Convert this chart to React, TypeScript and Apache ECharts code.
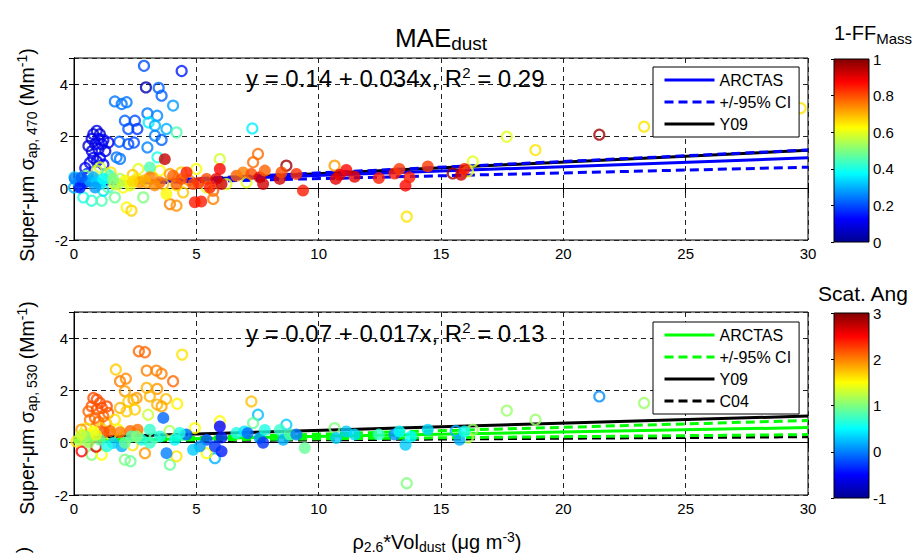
import React, { useEffect, useRef } from 'react';
import * as echarts from 'echarts';

// ---------- DATA ----------
const X_MIN = 0, X_MAX = 30, X_STEP = 5;
const Y_MIN = -2, Y_MAX = 5, Y_STEP = 2;
const CB1 = { min: 0, max: 1, step: 0.2 };
const CB2 = { min: -1, max: 3, step: 1 };

// line end points at x = 0 and x = 30
const LINE_X = [0, 30];
const top_arctas = [0.14, 1.16];
const top_ciUp = [0.14, 1.46];
const top_ciLo = [0.14, 0.8];
const top_y09 = [0.1, 1.45];
const bot_arctas = [0.07, 0.58];
const bot_ciUp = [0.07, 0.85];
const bot_ciLo = [0.07, 0.31];
const bot_y09 = [0.2, 1.02];
const bot_c04 = [0.05, 0.23];

// points: [x, y, colour value]
const topOpen: number[][] = [
  [2.86, 4.7, 0.2], [4.4, 4.5, 0.15], [2.94, 3.87, 0.05], [3.46, 3.85, 0.22], [3.58, 3.55, 0.22], [4.05, 3.17, 0.28],
  [1.67, 3.33, 0.24], [1.95, 3.23, 0.24], [2.15, 3.3, 0.24], [3.0, 2.87, 0.24], [3.4, 2.78, 0.26], [3.05, 2.52, 0.36],
  [2.08, 2.59, 0.22], [2.49, 2.59, 0.2], [2.22, 2.27, 0.2], [2.59, 2.27, 0.18], [3.31, 2.4, 0.3], [3.78, 2.27, 0.3],
  [4.19, 2.14, 0.45], [3.31, 2.01, 0.25], [3.58, 1.85, 0.22], [1.85, 1.78, 0.22], [2.22, 1.69, 0.2], [2.45, 1.75, 0.2],
  [3.0, 1.56, 0.25], [1.74, 1.18, 0.24], [1.88, 1.12, 0.24], [3.41, 1.18, 0.4], [7.29, 2.29, 0.36],
  [0.93, 2.2, 0.1], [0.79, 2.07, 0.1], [1.06, 2.07, 0.08], [0.72, 1.89, 0.1], [1.0, 1.89, 0.1], [1.2, 1.85, 0.12],
  [0.59, 1.62, 0.08], [0.87, 1.68, 0.1], [1.14, 1.68, 0.1], [1.41, 1.75, 0.12], [0.73, 1.42, 0.1], [1.0, 1.49, 0.1],
  [1.28, 1.42, 0.1], [0.79, 1.16, 0.1], [1.06, 1.16, 0.12], [0.65, 0.97, 0.1], [0.93, 1.03, 0.1], [0.46, 0.77, 0.12],
  [1.2, 0.9, 0.12], [0.55, 0.55, 0.15], [0.3, 0.35, 0.15], [0.2, 0.1, 0.18],
  [0.18, 0.22, 0.38], [0.38, -0.36, 0.4], [0.72, -0.49, 0.42], [1.13, -0.49, 0.45], [1.67, -0.36, 0.48], [1.2, -0.1, 0.35],
  [0.0, 0.02, 0.3], [2.15, -0.75, 0.63], [2.35, -0.87, 0.67], [2.83, -0.36, 0.5], [1.06, 0.79, 0.58], [2.63, 0.73, 0.6],
  [3.51, 0.67, 0.62], [4.39, 0.6, 0.67], [5.0, 0.73, 0.62], [5.96, 1.11, 0.58], [7.52, 1.31, 0.77], [7.32, 0.99, 0.77],
  [8.68, 0.86, 0.97], [10.65, 0.86, 0.72], [5.69, -0.1, 0.78], [5.69, -0.42, 0.75], [3.92, -0.62, 0.75], [4.19, -0.68, 0.73],
  [4.46, -0.17, 0.68], [3.92, 0.54, 0.72], [3.65, 0.15, 0.7], [2.96, 0.22, 0.72], [5.42, 0.02, 0.6], [7.05, 0.22, 0.6],
  [6.23, 0.15, 0.6], [0.02, 0.41, 0.3], [0.47, 0.47, 0.5], [0.93, 0.67, 0.58], [1.34, 0.54, 0.45], [1.6, 0.22, 0.5],
  [1.88, 0.35, 0.55], [1.4, 0.02, 0.45], [1.67, 0.15, 0.6], [2.0, 0.02, 0.62], [1.5, 0.6, 0.65], [2.4, 0.5, 0.68],
  [3.2, 0.4, 0.7], [4.7, 0.3, 0.72], [4.2, 0.1, 0.65],
  [16.3, 1.02, 0.6], [16.1, 0.64, 0.6], [15.48, 0.56, 0.97], [17.69, 1.97, 0.6], [18.86, 1.46, 0.65], [21.47, 2.05, 0.97],
  [23.3, 2.36, 0.65], [29.7, 3.07, 0.65], [13.6, -1.1, 0.65],
];
const topFilled: number[][] = [
  [0.04, 0.35, 0.25], [0.45, 0.22, 0.18], [0.79, 0.41, 0.3], [0.24, 0.02, 0.15], [1.06, 0.15, 0.35], [1.47, 0.47, 0.45],
  [3.1, 0.79, 0.45], [3.71, 1.11, 0.93], [2.08, 0.28, 0.62], [2.56, 0.35, 0.65], [2.29, 0.09, 0.6], [3.78, -0.23, 0.63],
  [2.69, 0.22, 0.73], [3.1, 0.41, 0.75], [3.51, 0.22, 0.77], [4.05, 0.47, 0.78], [4.19, 0.15, 0.78], [4.6, 0.6, 0.85],
  [4.87, 0.15, 0.8], [4.94, -0.55, 0.85], [5.2, -0.52, 0.85], [5.42, 0.35, 0.8], [5.55, 0.02, 0.85], [5.82, 0.35, 0.9],
  [5.96, 0.73, 0.88], [6.03, 0.15, 0.92], [6.64, 0.47, 0.78], [6.91, 0.6, 0.75], [7.25, 0.54, 0.8], [7.59, 0.41, 0.9],
  [7.73, 0.15, 0.92], [7.8, 0.67, 0.78], [8.41, 0.35, 0.92], [8.48, 0.6, 0.8], [9.09, 0.54, 0.83], [9.36, -0.1, 0.85],
  [10.7, 0.35, 0.9], [10.86, 0.51, 0.9], [11.13, 0.69, 0.87], [11.47, 0.43, 0.9], [12.46, 0.38, 0.85], [13.1, 0.56, 0.85],
  [13.3, 0.73, 0.82], [13.55, 0.09, 0.87], [13.71, 0.41, 0.85], [14.46, 0.83, 0.82], [15.82, 0.51, 0.92], [15.96, 0.73, 0.85],
  [0.65, 0.28, 0.3], [0.93, 0.22, 0.33], [1.2, 0.35, 0.38], [0.31, 0.41, 0.22], [0.86, 0.02, 0.28], [1.81, 0.15, 0.55],
  [1.6, 0.35, 0.5], [2.9, 0.3, 0.7], [3.3, 0.1, 0.74], [4.4, 0.35, 0.8], [5.1, 0.2, 0.83], [2.4, 0.25, 0.66],
];
const botOpen: number[][] = [
  [0.79, 1.71, 2.2], [0.93, 1.65, 2.2], [1.06, 1.52, 2.2], [0.72, 1.39, 2.15], [1.14, 1.33, 2.2], [1.34, 1.39, 2.2],
  [0.59, 1.2, 2.1], [0.93, 1.27, 2.2], [1.4, 1.14, 2.15], [0.86, 0.95, 2.1], [1.2, 1.01, 2.1], [0.65, 0.88, 2.05],
  [1.0, 0.8, 2.1], [1.3, 0.75, 2.0],
  [2.65, 3.5, 2.1], [2.9, 3.46, 2.1], [4.42, 3.37, 1.6], [1.71, 2.8, 1.7], [2.97, 2.76, 2.0], [3.37, 2.76, 2.0],
  [3.58, 2.64, 2.0], [4.05, 2.35, 2.1], [1.88, 2.35, 2.0], [2.12, 2.45, 1.95], [2.08, 1.97, 1.9], [2.97, 2.1, 1.8],
  [3.4, 2.06, 1.9], [2.56, 1.71, 1.9], [2.43, 1.65, 1.85], [2.22, 1.58, 1.7], [3.1, 1.77, 1.8], [3.76, 1.67, 1.75],
  [4.22, 1.49, 1.55], [3.4, 1.46, 1.8], [3.58, 1.39, 1.85], [1.88, 1.33, 1.8], [2.15, 1.2, 1.7], [2.49, 1.27, 1.7],
  [3.03, 1.07, 1.3], [1.67, 0.88, 1.6], [7.25, 1.58, 1.75], [7.52, 1.07, 0.25], [7.32, 0.75, 0.9], [5.96, 0.82, 1.5],
  [8.68, 0.69, 0.3], [10.65, 0.56, 1.0], [4.94, 0.56, 1.5], [3.92, -0.84, 0.9], [4.19, -0.52, 1.6], [2.9, -0.4, 1.9],
  [2.08, -0.65, 1.0], [2.31, -0.71, 0.9], [0.72, -0.46, 1.0], [1.13, -0.46, 1.5], [0.31, -0.33, 2.5], [5.76, -0.59, 0.2],
  [5.42, -0.4, 1.5], [15.6, 0.45, 0.2], [16.3, 0.5, 1.1], [16.1, 0.2, 1.2], [17.69, 1.23, 1.1], [18.86, 0.88, 1.1],
  [21.47, 1.77, 0.05], [23.3, 1.52, 1.1], [13.6, -1.55, 1.0],
  [0.1, 0.05, 1.6], [0.4, 0.3, 1.5], [0.6, 0.1, 1.3], [1.5, 0.3, 1.4], [1.8, 0.5, 1.5], [2.6, 0.3, 1.2], [3.3, 0.2, 1.0],
  [0.5, 0.55, 1.6], [1.1, 0.55, 1.7], [3.9, 0.45, 1.2], [4.5, 0.3, 0.8], [2.4, -0.1, 1.6], [0.9, -0.15, 2.6], [0.3, 0.5, 1.9],
];
const botFilled: number[][] = [
  [1.47, 0.45, 2.1], [1.88, 0.4, 2.0], [2.3, 0.45, 2.1], [2.6, 0.5, 2.05], [1.2, 0.4, 2.2],
  [3.65, 0.95, -0.1], [3.78, -0.4, 0.0], [5.96, 0.62, -0.5], [6.03, 0.2, -0.4], [6.03, -0.33, -0.4], [5.76, -0.14, -0.3],
  [5.42, 0.11, -0.2], [5.14, -0.14, 0.1], [4.87, -0.27, 0.3], [4.6, 0.31, -0.1], [4.12, 0.11, 0.5], [3.51, 0.24, 0.6],
  [3.1, 0.5, 0.7], [2.76, 0.11, 0.6], [2.35, 0.24, 0.8], [1.95, -0.14, 0.2], [1.6, -0.01, 0.3], [0.79, 0.43, 1.5],
  [0.47, 0.24, 1.0], [0.2, 0.11, 1.2], [1.06, 0.11, 0.9], [1.34, -0.14, 0.6], [2.08, 0.0, 0.9], [2.56, 0.24, 1.0],
  [3.1, 0.0, 0.7], [4.32, 0.37, 0.6], [6.64, 0.37, 0.6], [6.97, 0.43, 0.4], [7.1, 0.36, -0.1], [7.59, 0.18, 0.1],
  [7.73, 0.0, -0.3], [7.8, 0.49, 0.6], [8.41, 0.49, 0.7], [8.55, 0.11, 0.2], [8.82, 0.31, 0.8], [9.09, 0.31, 0.0],
  [9.43, -0.2, 0.9], [10.72, 0.18, 0.3], [11.13, 0.43, 0.3], [11.47, 0.31, 0.35], [12.46, 0.31, 0.7], [13.1, 0.31, 0.05],
  [13.3, 0.43, 0.5], [13.55, -0.08, 0.3], [13.78, 0.24, 0.5], [14.46, 0.5, 0.35], [15.76, 0.11, 0.2], [15.96, 0.43, 0.55],
  [0.3, 0.3, 1.3], [0.6, 0.0, 1.1], [0.9, 0.3, 1.4],
];

// ---------- STYLE HELPERS ----------
const FONT = 'Liberation Sans, Arial, Helvetica, sans-serif';

function jet(v: number, lo: number, hi: number) {
  const t = Math.min(1, Math.max(0, (v - lo) / (hi - lo)));
  const f = (x: number) => Math.round(255 * Math.min(1, Math.max(0, 1.5 - Math.abs(x))));
  return `rgb(${f(4 * t - 3)},${f(4 * t - 2)},${f(4 * t - 1)})`;
}

const JET_STOPS = [
  { offset: 0, color: '#000090' },
  { offset: 0.125, color: '#0000ff' },
  { offset: 0.375, color: '#00ffff' },
  { offset: 0.625, color: '#ffff00' },
  { offset: 0.875, color: '#ff0000' },
  { offset: 1, color: '#800000' },
];

const GRIDS = [
  { left: 74, top: 58, width: 734, height: 182 },
  { left: 74, top: 312, width: 734, height: 183 },
  { left: 834, top: 59, width: 35, height: 183 },
  { left: 834, top: 313, width: 35, height: 185 },
];

function openSeries(pts: number[][], lo: number, hi: number, gi: number) {
  return {
    type: 'scatter', xAxisIndex: gi, yAxisIndex: gi, silent: true, z: 3,
    symbol: 'circle', symbolSize: 10,
    data: pts.map((p) => ({
      value: [p[0], p[1]],
      itemStyle: { color: 'rgba(0,0,0,0)', borderColor: jet(p[2], lo, hi), borderWidth: 2.2 },
    })),
  };
}
function filledSeries(pts: number[][], lo: number, hi: number, gi: number) {
  return {
    type: 'scatter', xAxisIndex: gi, yAxisIndex: gi, silent: true, z: 4,
    symbol: 'circle', symbolSize: 12,
    data: pts.map((p) => ({ value: [p[0], p[1]], itemStyle: { color: jet(p[2], lo, hi) } })),
  };
}
function lineSeries(name: string, ys: number[], color: string, dashed: boolean, gi: number) {
  return {
    type: 'line', name, xAxisIndex: gi, yAxisIndex: gi, silent: true, z: 2,
    symbol: 'none', showSymbol: false, legendIcon: 'none',
    itemStyle: { color },
    lineStyle: { color, width: 3, type: dashed ? [9, 5] : 'solid' },
    data: LINE_X.map((x, i) => [x, ys[i]]),
  };
}

function mainX(gi: number) {
  return {
    gridIndex: gi, type: 'value', min: X_MIN, max: X_MAX, interval: X_STEP,
    axisLine: { show: true, lineStyle: { color: '#000', width: 1 } },
    axisTick: { show: true, inside: true, length: 5, lineStyle: { color: '#000' } },
    axisLabel: { fontSize: 15, color: '#000', margin: 6, fontFamily: FONT },
    splitLine: { show: true, lineStyle: { color: '#222', width: 1, type: [5, 4] } },
  };
}
function mainY(gi: number) {
  return {
    gridIndex: gi, type: 'value', min: Y_MIN, max: Y_MAX, interval: Y_STEP,
    axisLine: { show: true, lineStyle: { color: '#000', width: 1 } },
    axisTick: { show: true, inside: true, length: 5, lineStyle: { color: '#000' } },
    axisLabel: { fontSize: 15, color: '#000', margin: 6, fontFamily: FONT, showMaxLabel: false,
      formatter: (v: number) => (v === Y_MAX ? '' : String(v)) },
    splitLine: { show: true, lineStyle: { color: '#222', width: 1, type: [5, 4] } },
  };
}
function mirrorX(gi: number) {
  return {
    gridIndex: gi, type: 'value', position: 'top', min: X_MIN, max: X_MAX, interval: X_STEP,
    axisLine: { show: true, lineStyle: { color: '#000' } },
    axisTick: { show: true, inside: true, length: 5, lineStyle: { color: '#000' } },
    axisLabel: { show: false }, splitLine: { show: false },
  };
}
function mirrorY(gi: number) {
  return {
    gridIndex: gi, type: 'value', position: 'right', min: Y_MIN, max: Y_MAX, interval: Y_STEP,
    axisLine: { show: true, lineStyle: { color: '#000' } },
    axisTick: { show: true, inside: true, length: 5, lineStyle: { color: '#000' } },
    axisLabel: { show: false }, splitLine: { show: false },
  };
}
function cbY(gi: number, cb: { min: number; max: number; step: number }) {
  return {
    gridIndex: gi, type: 'value', position: 'right', min: cb.min, max: cb.max, interval: cb.step, z: 10,
    axisLine: { show: false },
    axisTick: { show: true, inside: true, length: 3, lineStyle: { color: '#000' } },
    axisLabel: { fontSize: 15, color: '#000', margin: 4, fontFamily: FONT,
      formatter: (v: number) => String(Math.round(v * 10) / 10) },
    splitLine: { show: false },
  };
}

function legendCfg(top: number, names: string[]) {
  return {
    orient: 'vertical', left: 653, top, selectedMode: false,
    padding: [5, 8, 5, 10], itemGap: 6, itemWidth: 50, itemHeight: 18,
    backgroundColor: '#fff', borderColor: '#000', borderWidth: 1, borderRadius: 0,
    textStyle: { fontSize: 16, color: '#000', fontFamily: FONT },
    lineStyle: { width: 3 },
    itemStyle: { opacity: 0 },
    formatter: (n: string) => n.replace('#b', ''),
    data: names,
  };
}

const sup = (fs: number) => ({ fontSize: fs, fontFamily: FONT, fill: '#000', verticalAlign: 'top', lineHeight: 10 });
const sub = (fs: number, lh = 10) => ({ fontSize: fs, fontFamily: FONT, fill: '#000', verticalAlign: 'bottom', lineHeight: lh });
const norm = (fs: number, lh: number) => ({ fontSize: fs, fontFamily: FONT, fill: '#000', lineHeight: lh });

export default function App() {
  const ref = useRef<HTMLDivElement>(null);
  useEffect(() => {
    if (!ref.current) return;
    const chart = echarts.init(ref.current, null, { renderer: 'svg' });
    const grad = { type: 'linear', x: 0, y: 1, x2: 0, y2: 0, colorStops: JET_STOPS };

    const option: any = {
      animation: false,
      backgroundColor: '#fff',
      textStyle: { fontFamily: FONT },
      grid: GRIDS.map((g, i) => ({
        ...g, containLabel: false,
        show: i < 2, borderColor: '#000', borderWidth: 1, backgroundColor: '#fff',
      })),
      xAxis: [
        mainX(0), mainX(1), mirrorX(0), mirrorX(1),
        { gridIndex: 2, type: 'value', min: 0, max: 1, show: false },
        { gridIndex: 3, type: 'value', min: 0, max: 1, show: false },
      ],
      yAxis: [mainY(0), mainY(1), mirrorY(0), mirrorY(1), cbY(2, CB1), cbY(3, CB2)],
      legend: [
        legendCfg(67, ['ARCTAS', '+/-95% CI', 'Y09']),
        legendCfg(322, ['ARCTAS#b', '+/-95% CI#b', 'Y09#b', 'C04#b']),
      ],
      series: [
        lineSeries('Y09', top_y09, '#000', false, 0),
        lineSeries('ARCTAS', top_arctas, '#0000ff', false, 0),
        lineSeries('+/-95% CI', top_ciUp, '#0000ff', true, 0),
        lineSeries('+/-95% CI', top_ciLo, '#0000ff', true, 0),
        openSeries(topOpen, CB1.min, CB1.max, 0),
        filledSeries(topFilled, CB1.min, CB1.max, 0),
        lineSeries('Y09#b', bot_y09, '#000', false, 1),
        lineSeries('C04#b', bot_c04, '#000', true, 1),
        lineSeries('ARCTAS#b', bot_arctas, '#00ff00', false, 1),
        lineSeries('+/-95% CI#b', bot_ciUp, '#00ff00', true, 1),
        lineSeries('+/-95% CI#b', bot_ciLo, '#00ff00', true, 1),
        openSeries(botOpen, CB2.min, CB2.max, 1),
        filledSeries(botFilled, CB2.min, CB2.max, 1),
      ],
      graphic: [
        { type: 'rect', z: 1, shape: { x: GRIDS[2].left, y: GRIDS[2].top, width: GRIDS[2].width, height: GRIDS[2].height },
          style: { fill: grad, stroke: '#000', lineWidth: 1 } },
        { type: 'rect', z: 1, shape: { x: GRIDS[3].left, y: GRIDS[3].top, width: GRIDS[3].width, height: GRIDS[3].height },
          style: { fill: grad, stroke: '#000', lineWidth: 1 } },
        { type: 'text', x: 441, y: 38, style: {
          text: '{n|MAE}{s|dust}', align: 'center', verticalAlign: 'middle',
          rich: { n: norm(26, 30), s: sub(19, 12) } } },
        { type: 'text', x: 834, y: 33, style: {
          text: '{n|1-FF}{s|Mass}', align: 'left', verticalAlign: 'middle',
          rich: { n: norm(20, 26), s: sub(15, 10) } } },
        { type: 'text', x: 818, y: 293, style: {
          text: 'Scat. Ang', align: 'left', verticalAlign: 'middle', fontSize: 21, fontFamily: FONT, fill: '#000' } },
        { type: 'text', x: 246, y: 78, z: 6, style: {
          text: '{n|y = 0.14 + 0.034x, R}{p|2}{n| = 0.29}', align: 'left', verticalAlign: 'middle',
          rich: { n: norm(24, 27), p: sup(15) } } },
        { type: 'text', x: 246, y: 333, z: 6, style: {
          text: '{n|y = 0.07 + 0.017x, R}{p|2}{n| = 0.13}', align: 'left', verticalAlign: 'middle',
          rich: { n: norm(24, 27), p: sup(15) } } },
        { type: 'text', x: 27, y: 155, rotation: Math.PI / 2, style: {
          text: '{n|Super-\u03bcm \u03c3}{s|ap, 470}{n| (Mm}{p|-1}{n|)}', align: 'center', verticalAlign: 'middle',
          rich: { n: norm(19.5, 24), s: sub(14, 11), p: sup(14) } } },
        { type: 'text', x: 27, y: 408, rotation: Math.PI / 2, style: {
          text: '{n|Super-\u03bcm \u03c3}{s|ap, 530}{n| (Mm}{p|-1}{n|)}', align: 'center', verticalAlign: 'middle',
          rich: { n: norm(19.5, 24), s: sub(14, 11), p: sup(14) } } },
        { type: 'text', x: 22, y: 550, rotation: Math.PI / 2, style: {
          text: ')', align: 'center', verticalAlign: 'middle', fontSize: 19, fontFamily: FONT, fill: '#000' } },
        { type: 'text', x: 437, y: 542, style: {
          text: '{n|\u03c1}{s|2.6}{n|*Vol}{s|dust}{n| (\u03bcg m}{p|-3}{n|)}', align: 'center', verticalAlign: 'middle',
          rich: { n: norm(20, 24), s: sub(14, 11), p: sup(14) } } },
      ],
    };
    chart.setOption(option);
    return () => chart.dispose();
  }, []);
  return (
    <div ref={ref} style={{ position: 'fixed', left: 0, top: 0, width: 917, height: 557, background: '#fff' }} />
  );
}
